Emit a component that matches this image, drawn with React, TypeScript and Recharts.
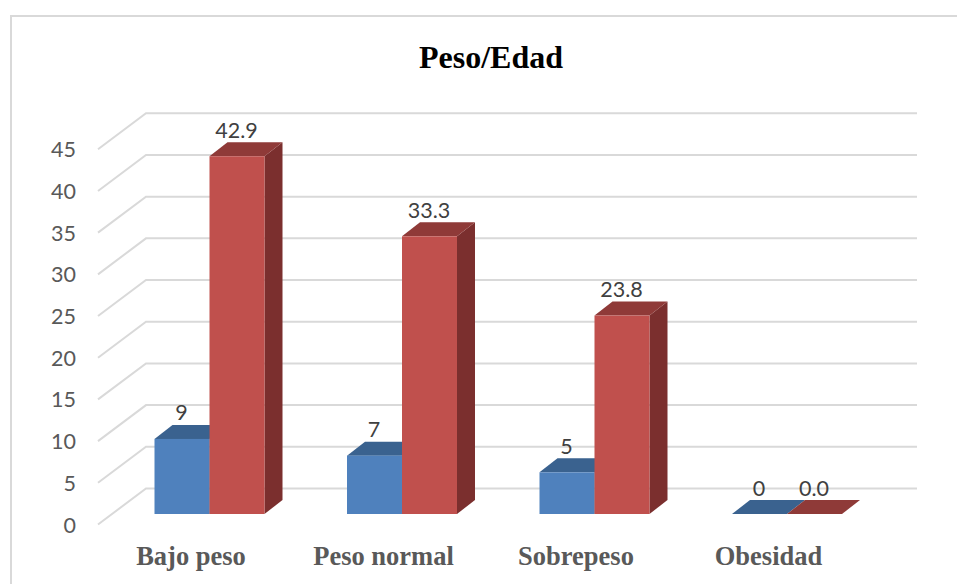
import React from "react";
import { BarChart, Bar, XAxis, YAxis, CartesianGrid, LabelList } from "recharts";

const categories = ["Bajo peso", "Peso normal", "Sobrepeso", "Obesidad"];
const counts = [9, 7, 5, 0];
const percents = [42.9, 33.3, 23.8, 0.0];
const yTicks = [0, 5, 10, 15, 20, 25, 30, 35, 40, 45];
const rows = categories.map((name, i) => ({ name, count: counts[i], percent: percents[i] }));

const DX = 18;
const DY = 14;

const bar3d = (front: string, top: string, side: string) => (p: any) => {
  const { x, y, width: w, height: h } = p;
  return (
    <g>
      <polygon points={`${x + w},${y} ${x + w + DX},${y - DY} ${x + w + DX},${y + h - DY} ${x + w},${y + h}`} fill={side} />
      <polygon points={`${x},${y} ${x + DX},${y - DY} ${x + w + DX},${y - DY} ${x + w},${y}`} fill={top} />
      <rect x={x} y={y} width={w} height={h} fill={front} />
    </g>
  );
};

const gridLine = (p: any) => {
  const y = p.y1;
  const g = { stroke: "#d9d9d9", strokeWidth: 2, fill: "none" };
  return (
    <polyline key={`g${y}`} points={`98,${y + 10.5} 146,${y - 25.5} 917,${y - 25.5}`} {...g} />
  );
};

const yTick = (p: any) => (
  <text x={76} y={p.y + 11} dy="0.35em" textAnchor="end" fontFamily="Lato, 'Open Sans', sans-serif" fontSize={21.5} fill="#595959">
    {p.payload.value}
  </text>
);

const xTick = (p: any) => (
  <text x={p.x - 18.5} y={565} textAnchor="middle" fontFamily="'Liberation Serif', serif" fontWeight="bold" fontSize={26.5} fill="#595959">
    {p.payload.value}
  </text>
);

const valueLabel = (fmt: (v: number) => string) => (p: any) => (
  <text x={p.x + p.width / 2 - 0.5} y={p.y - 26} dy="0.35em" textAnchor="middle" fontFamily="Lato, 'Open Sans', sans-serif" fontSize={21.5} fill="#404040">
    {fmt(Number(p.value))}
  </text>
);

export default function App() {
  return (
    <div style={{ position: "absolute", left: 0, top: 0, width: 957, height: 584, background: "#fff", overflow: "hidden" }}>
      <div style={{ position: "absolute", left: 10, top: 15, width: 1000, height: 600, border: "2px solid #d9d9d9", boxSizing: "border-box" }} />
      <div style={{ position: "absolute", left: 0, top: 37, width: 982, textAlign: "center", fontFamily: "'Liberation Serif', serif", fontWeight: "bold", fontSize: 32, lineHeight: "40px", color: "#000" }}>
        Peso/Edad
      </div>
      <div style={{ position: "absolute", left: 0, top: 0 }}>
        <BarChart
          width={957}
          height={584}
          data={rows}
          barGap={0}
          barCategoryGap={41.25}
          margin={{ top: 138.75, right: 73.75, bottom: 20, left: 53.25 }}
        >
          <CartesianGrid vertical={false} horizontal={gridLine} />
          <XAxis dataKey="name" height={50} axisLine={false} tickLine={false} tick={xTick} interval={0} />
          <YAxis width={60} domain={[0, 45]} ticks={yTicks} axisLine={false} tickLine={false} tick={yTick} />
          <Bar dataKey="count" isAnimationActive={false} shape={bar3d("#4f81bd", "#3a628f", "#335a86")}>
            <LabelList dataKey="count" content={valueLabel((v) => String(v))} />
          </Bar>
          <Bar dataKey="percent" isAnimationActive={false} shape={bar3d("#c0504d", "#8f3a38", "#7b2f2e")}>
            <LabelList dataKey="percent" content={valueLabel((v) => v.toFixed(1))} />
          </Bar>
        </BarChart>
      </div>
    </div>
  );
}
